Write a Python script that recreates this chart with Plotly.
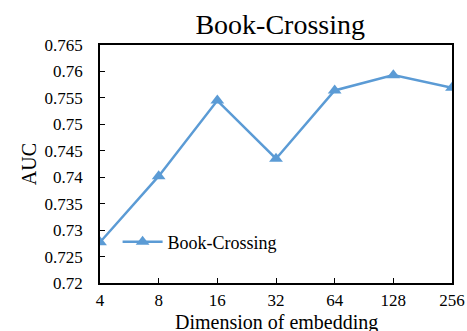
import plotly.graph_objects as go

# Embedding dimension vs. AUC on Book-Crossing
dims = ["4", "8", "16", "32", "64", "128", "256"]
auc = [0.7277, 0.7402, 0.7545, 0.7435, 0.7564, 0.7593, 0.7569]
series_name = "Book-Crossing"
y_ticks = [0.72, 0.725, 0.73, 0.735, 0.74, 0.745, 0.75, 0.755, 0.76, 0.765]
y_tick_text = ["0.72", "0.725", "0.73", "0.735", "0.74", "0.745", "0.75", "0.755", "0.76", "0.765"]

color = "#5B9BD5"
serif = "Liberation Serif, Times New Roman, serif"

fig = go.Figure(
    go.Scatter(
        x=dims,
        y=auc,
        name=series_name,
        mode="lines+markers",
        line=dict(color=color, width=2.5),
        marker=dict(symbol="triangle-up", size=12, color=color),
    )
)

axis_common = dict(
    showline=True,
    linecolor="black",
    linewidth=1.5,
    mirror=True,
    ticks="inside",
    ticklen=5,
    tickcolor="black",
    tickwidth=1,
    showgrid=False,
    zeroline=False,
    automargin=False,
    tickfont=dict(family=serif, size=17, color="black"),
)

fig.update_xaxes(
    type="category",
    range=[0, 6],
    ticklabelstandoff=1,
    **axis_common,
)
fig.update_yaxes(
    range=[0.72, 0.765],
    tickvals=y_ticks,
    ticktext=y_tick_text,
    title=dict(text="AUC", font=dict(family=serif, size=20, color="black"), standoff=3),
    ticklabelstandoff=12,
    **axis_common,
)

# x-axis title placed just under the tick labels, running to the bottom edge
fig.add_annotation(
    text="Dimension of embedding",
    xref="paper", yref="paper",
    x=0.5, y=-0.166,
    xanchor="center", yanchor="middle",
    showarrow=False,
    font=dict(family=serif, size=20, color="black"),
)

fig.update_layout(
    width=467,
    height=331,
    margin=dict(l=100, r=15, t=45, b=48),
    paper_bgcolor="white",
    plot_bgcolor="white",
    title=dict(
        text="Book-Crossing",
        font=dict(family=serif, size=28, color="black"),
        x=0.6, xanchor="center",
        y=1 - 24 / 331, yanchor="middle",
    ),
    showlegend=True,
    legend=dict(
        x=0.05, y=0.172, xanchor="left", yanchor="middle",
        bgcolor="rgba(0,0,0,0)",
        font=dict(family=serif, size=18, color="black"),
        itemwidth=40,
    ),
)

fig.write_html("out.html")
